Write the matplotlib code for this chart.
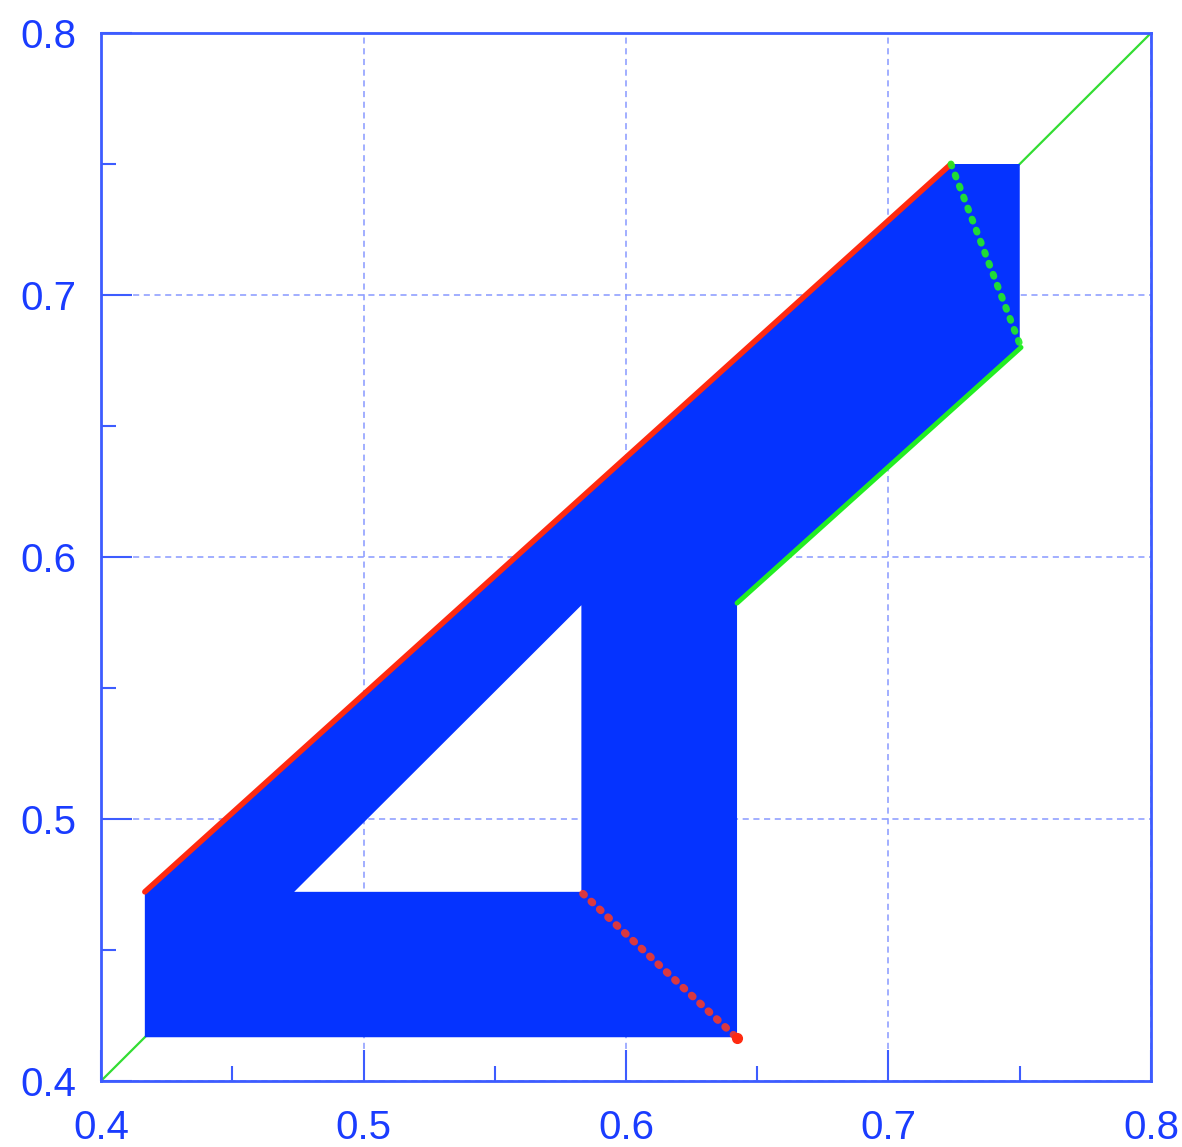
import matplotlib
matplotlib.use("Agg")
import matplotlib.pyplot as plt
from matplotlib.path import Path
from matplotlib.patches import PathPatch
from matplotlib.ticker import MultipleLocator

# ---- data ----
region_x = [0.4167, 0.4167, 0.7238, 0.7500, 0.7500, 0.6423, 0.6423, 0.4167]
region_y = [0.4167, 0.4722, 0.7500, 0.7500, 0.6800, 0.5824, 0.4167, 0.4167]
hole_x = [0.4736, 0.5830, 0.5830, 0.4736]
hole_y = [0.4722, 0.4722, 0.5816, 0.4722]
red_top_x = [0.4167, 0.7238]
red_top_y = [0.4722, 0.7500]
red_low_x = [0.5836, 0.6423]
red_low_y = [0.4715, 0.4164]
green_side_x = [0.7238, 0.7505]
green_side_y = [0.7500, 0.6800]
green_low_x = [0.6423, 0.7505]
green_low_y = [0.5824, 0.6800]
diag_x = [0.4, 0.8]
diag_y = [0.4, 0.8]
ticks = [0.4, 0.5, 0.6, 0.7, 0.8]
tick_labels = ["0.4", "0.5", "0.6", "0.7", "0.8"]

BLUE = "#0533ff"
FRAME = "#3d5cff"

fig = plt.figure(figsize=(11.82, 11.47), dpi=100)
ax = fig.add_axes([101/1182, 1 - 1081/1147, 1050/1182, 1048/1147])
ax.set_xlim(0.4, 0.8)
ax.set_ylim(0.4, 0.8)

ax.plot(diag_x, diag_y, color="#33dd33", lw=1.6, zorder=1)

verts = list(zip(region_x, region_y)) + list(zip(hole_x, hole_y))
codes = ([Path.MOVETO] + [Path.LINETO] * (len(region_x) - 2) + [Path.CLOSEPOLY]
         + [Path.MOVETO] + [Path.LINETO] * (len(hole_x) - 2) + [Path.CLOSEPOLY])
ax.add_patch(PathPatch(Path(verts, codes), facecolor=BLUE, edgecolor="none", zorder=2))

ax.plot(red_top_x, red_top_y, color="#ff2a10", lw=4, solid_capstyle="round", zorder=4)
ax.plot(red_low_x, red_low_y, color="#ff3a20", lw=5.5, linestyle=(0, (0.2, 1.3)),
        dash_capstyle="round", alpha=0.85, zorder=4)
ax.plot([red_low_x[1]], [red_low_y[1]], "o", color="#ff2a10", ms=7, zorder=5)
ax.plot(green_low_x, green_low_y, color="#22ee22", lw=3.5, solid_capstyle="round", zorder=4)
ax.plot(green_side_x, green_side_y, color="#22ee22", lw=5, linestyle=(0, (0.3, 1.4)),
        dash_capstyle="round", alpha=0.9, zorder=4)

ax.set_axisbelow(True)
ax.grid(True, which="major", color="#8899ff", linestyle=(0, (4, 3)), lw=1.1)
ax.xaxis.set_minor_locator(MultipleLocator(0.05))
ax.yaxis.set_minor_locator(MultipleLocator(0.05))
ax.set_xticks(ticks)
ax.set_yticks(ticks)
ax.set_xticklabels(tick_labels)
ax.set_yticklabels(tick_labels)
ax.tick_params(which="both", direction="in", colors=FRAME, top=False, right=False,
               labelcolor="#1a3cff", labelsize=29, width=1.5)
ax.tick_params(axis="x", which="major", length=22, pad=20)
ax.tick_params(axis="y", which="major", length=22, pad=18)
ax.tick_params(which="minor", length=11)
for lab in ax.get_xticklabels() + ax.get_yticklabels():
    lab.set_family("Liberation Sans")
for s in ax.spines.values():
    s.set_color(FRAME)
    s.set_linewidth(2)

fig.savefig("out.png", dpi=100, facecolor="white")
